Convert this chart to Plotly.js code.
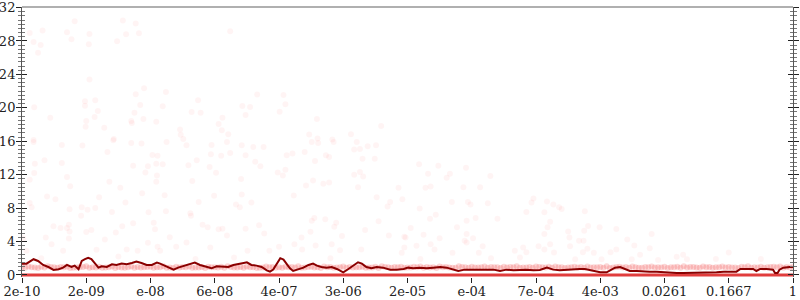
<!DOCTYPE html>
<html>
<head>
<meta charset="utf-8">
<script src="https://cdn.plot.ly/plotly-3.0.1.min.js"></script>
<style>html,body{margin:0;padding:0;background:#fff;}#chart{width:800px;height:300px;}</style>
</head>
<body>
<div id="chart"></div>
<script>
// x positions are quantile ranks (0..12), labelled with the matching values
const tickPos = [0,1,2,3,4,5,6,7,8,9,10,11,12];
const tickLabels = ["2e-10","2e-09","e-08","6e-08","4e-07","3e-06","2e-05","e-04","7e-04","4e-03","0.0261","0.1667","1"];
const yTicks = [0,4,8,12,16,20,24,28,32];

// individual observations (faint points)
const scatX = [0.82,1.57,1.77,0.32,0.12,0.70,1.05,1.62,1.82,3.24,0.18,0.77,0.29,1.04,1.48,0.25,1.05,1.90,1.77,2.24,3.66,2.74,0.98,1.14,0.19,0.98,1.84,2.19,3.43,3.55,1.18,1.75,2.64,2.78,3.48,4.01,0.44,1.13,1.89,3.12,1.00,1.70,1.71,2.09,3.06,0.99,1.28,2.46,3.11,2.47,3.21,0.18,1.43,2.51,
4.07,4.10,4.59,5.59,4.47,5.12,4.60,4.83,
0.18,0.62,0.94,1.42,1.70,1.86,2.25,2.56,2.95,3.19,3.42,3.60,3.76,1.33,2.03,2.11,2.94,3.10,3.24,3.48,0.20,0.35,0.62,1.73,1.96,2.09,2.19,2.59,2.72,2.92,3.63,3.71,0.19,0.70,1.92,2.10,3.02,3.98,0.12,0.75,1.36,2.09,2.65,3.41,1.53,0.39,0.52,1.20,1.87,2.22,2.99,3.42,3.57,1.61,2.75,0.12,0.15,0.74,0.93,0.92,1.02,1.14,1.40,1.97,2.24,2.62,2.63,3.33,3.39,0.49,0.60,0.70,0.74,0.73,1.00,1.08,1.46,1.56,1.73,2.05,2.07,2.30,2.81,2.89,3.06,3.12,3.19,3.48,3.69,3.77,0.37,0.73,1.29,1.96,2.11,2.56,2.93,0.02,0.07,0.46,0.64,1.16,1.63,1.80,2.15,2.40,3.51,3.85,4.00,
4.51,4.61,4.85,5.21,5.38,5.51,4.12,4.21,4.40,4.73,4.78,5.17,5.26,5.30,5.49,4.56,6.18,6.48,6.91,4.06,4.10,5.17,5.26,5.31,6.32,6.61,6.66,7.29,4.42,4.53,4.69,4.78,5.23,5.86,6.28,6.36,6.87,7.13,4.23,5.52,5.73,5.92,6.69,6.94,6.98,7.25,7.96,7.93,5.69,6.19,6.35,6.44,7.06,6.92,7.40,7.85,4.51,4.55,4.72,4.86,4.89,5.55,6.05,6.25,6.50,6.77,6.92,7.02,4.35,4.49,4.98,5.34,5.71,5.95,5.97,6.89,6.92,4.24,4.57,4.82,5.95,6.14,6.36,7.17,7.80,4.36,4.95,5.28,5.91,6.42,6.70,7.11,7.67,7.85,8.04,7.75,
8.17,8.27,8.36,8.40,8.76,8.13,8.22,8.18,8.13,8.50,8.52,8.81,8.75,8.99,9.25,8.67,8.74,8.53,8.22,8.13,8.28,8.73,8.80,8.90,9.42,9.53,9.16,9.25,9.62,9.77,9.80,9.49,10.19,10.29,10.35,11.00,9.02,8.61,
0.30,1.50,2.70,3.30,4.80,6.20,7.30,9.90,10.80,11.50];
const scatY = [30.37,30.45,30.08,29.24,28.96,29.04,28.84,28.80,28.92,29.16,27.88,28.20,27.52,27.60,27.96,26.59,23.38,22.34,21.62,21.90,21.60,20.90,20.78,20.90,20.06,20.26,20.34,20.18,20.22,20.10,19.61,19.41,19.49,19.41,19.13,19.53,18.81,18.89,18.65,18.81,18.41,18.41,18.17,18.33,18.05,17.73,17.61,17.41,17.33,16.77,16.85,16.16,16.28,16.28,
21.54,20.42,18.65,17.81,16.81,16.85,16.33,16.20,
15.92,15.56,15.48,16.12,15.80,15.72,15.92,15.52,15.56,15.92,15.52,15.32,15.32,14.72,14.36,14.28,14.44,14.28,14.60,14.32,13.32,13.72,13.40,13.08,13.00,13.32,13.24,13.12,13.72,12.92,13.56,13.00,12.19,11.71,12.27,11.91,12.23,12.27,11.39,10.63,11.15,11.15,11.23,11.47,10.43,9.39,9.07,9.31,9.79,9.55,9.47,9.63,8.66,8.66,8.74,8.62,8.10,7.86,8.10,7.10,7.82,8.02,7.54,7.50,7.62,7.38,7.10,8.42,8.10,5.82,5.62,5.62,5.21,6.02,5.13,5.38,5.09,5.82,6.18,6.26,5.46,4.53,6.02,5.70,5.46,5.54,4.73,5.54,5.94,4.97,4.49,4.37,4.25,3.85,3.37,3.89,3.29,4.41,2.89,3.69,2.89,3.01,3.05,2.89,2.89,3.37,2.89,2.89,3.37,
15.92,15.80,15.92,15.92,15.40,15.52,14.32,14.52,14.72,14.32,14.12,15.00,15.08,13.92,13.92,13.64,13.24,13.08,12.84,11.91,12.60,11.99,12.31,11.79,12.11,11.63,12.11,11.83,10.71,11.31,10.91,11.07,10.51,10.43,10.43,10.59,10.51,10.51,9.51,9.31,8.74,9.07,8.74,8.74,8.42,8.58,9.15,8.66,8.18,7.94,6.74,7.22,6.82,6.50,6.74,7.54,6.50,6.82,6.66,5.78,6.26,6.42,5.62,4.81,4.41,5.70,4.89,4.41,4.49,5.17,4.65,5.38,4.73,4.57,4.49,4.09,3.89,3.69,3.53,3.69,3.29,3.49,3.69,3.45,3.29,3.05,2.97,3.05,2.65,3.05,2.65,2.65,2.89,2.73,3.45,2.09,
8.78,8.42,8.10,7.90,7.62,7.50,6.38,5.70,4.89,5.21,4.49,5.86,5.29,5.70,5.50,4.09,4.09,3.45,3.69,3.05,2.69,2.73,3.13,2.65,4.25,3.53,2.73,3.05,2.41,3.21,4.89,1.89,2.17,2.41,1.89,2.69,1.89,1.89,
2.00,2.20,1.90,2.10,2.00,1.90,2.00,1.80,1.90,1.90];

// dense cluster of observations close to 1
const bandX = [0,0.1,0.2,0.3,0.4,0.5,0.6,0.7,0.8,0.9,1,1.1,1.2,1.3,1.4,1.5,1.6,1.7,1.8,1.9,2,2.1,2.2,2.3,2.4,2.5,2.6,2.7,2.8,2.9,3,3.1,3.2,3.3,3.4,3.5,3.6,3.7,3.8,3.9,4,4.1,4.2,4.3,4.4,4.5,4.6,4.7,4.8,4.9,5,5.1,5.2,5.3,5.4,5.5,5.6,5.7,5.8,5.9,6,6.1,6.2,6.3,6.4,6.5,6.6,6.7,6.8,6.9,7,7.1,7.2,7.3,7.4,7.5,7.6,7.7,7.8,7.9,8,8.1,8.2,8.3,8.4,8.5,8.6,8.7,8.8,8.9,9,9.1,9.2,9.3,9.4,9.5,9.6,9.7,9.8,9.9,10,10.1,10.2,10.3,10.4,10.5,10.6,10.7,10.8,10.9,11,11.1,11.2,11.3,11.4,11.5,11.6,11.7,11.8,11.9,12];
const bandY = [0.95,1.02,0.9,0.98,1.05,0.92,0.97,1.0,0.88,0.96,1.04,0.93,0.99,0.9,1.01,0.95,0.87,1.03,0.97,0.92,1.0,0.94,1.06,0.91,0.98,0.95,1.02,0.89,0.97,1.0,0.93,0.99,1.05,0.9,0.96,1.01,0.94,0.88,1.03,0.97,0.92,1.0,0.95,1.04,0.9,0.98,0.93,1.01,0.96,0.89,1.02,0.97,0.94,1.0,0.91,0.99,1.05,0.93,0.96,1.0,0.9,0.98,1.03,0.95,0.92,1.01,0.97,0.88,1.04,0.94,0.99,0.91,1.02,0.96,0.93,1.0,0.97,1.05,0.9,0.95,1.01,0.92,0.98,1.03,0.94,0.89,1.0,0.96,1.02,0.93,0.97,1.05,0.91,0.99,0.95,1.01,0.88,0.97,1.03,0.94,1.0,0.92,0.98,1.04,0.95,0.9,1.01,0.96,0.93,1.02,0.97,0.91,0.99,1.05,0.94,1.0,0.92,0.98,1.03,0.95,0.97];
const bandX2 = [0.05,0.15,0.25,0.35,0.45,0.55,0.65,0.75,0.85,0.95,1.05,1.15,1.25,1.35,1.45,1.55,1.65,1.75,1.85,1.95,2.05,2.15,2.25,2.35,2.45,2.55,2.65,2.75,2.85,2.95,3.05,3.15,3.25,3.35,3.45,3.55,3.65,3.75,3.85,3.95,4.05,4.15,4.25,4.35,4.45,4.55,4.65,4.75,4.85,4.95,5.05,5.15,5.25,5.35,5.45,5.55,5.65,5.75,5.85,5.95,6.05,6.15,6.25,6.35,6.45,6.55,6.65,6.75,6.85,6.95,7.05,7.15,7.25,7.35,7.45,7.55,7.65,7.75,7.85,7.95,8.05,8.15,8.25,8.35,8.45,8.55,8.65,8.75,8.85,8.95,9.05,9.15,9.25,9.35,9.45,9.55,9.65,9.75,9.85,9.95,10.05,10.15,10.25,10.35,10.45,10.55,10.65,10.75,10.85,10.95,11.05,11.15,11.25,11.35,11.45,11.55,11.65,11.75,11.85,11.95];
const bandY2 = [0.88,0.93,0.85,0.9,0.96,0.87,0.92,0.84,0.9,0.95,0.86,0.91,0.88,0.94,0.85,0.9,0.93,0.87,0.89,0.95,0.86,0.92,0.88,0.84,0.91,0.94,0.87,0.9,0.85,0.93,0.89,0.86,0.95,0.9,0.87,0.92,0.85,0.91,0.94,0.88,0.86,0.93,0.9,0.87,0.95,0.89,0.85,0.92,0.88,0.94,0.86,0.9,0.93,0.87,0.91,0.85,0.95,0.88,0.92,0.86,0.9,0.94,0.87,0.89,0.85,0.93,0.91,0.88,0.95,0.86,0.9,0.92,0.87,0.94,0.85,0.89,0.93,0.88,0.91,0.86,0.95,0.9,0.87,0.92,0.85,0.94,0.89,0.86,0.91,0.93,0.88,0.85,0.95,0.9,0.87,0.92,0.86,0.94,0.89,0.91,0.85,0.93,0.88,0.9,0.95,0.87,0.92,0.86,0.94,0.89,0.91,0.85,0.93,0.88,0.9,0.87,0.95,0.92,0.86,0.9];

// observations equal to zero
const zeroX = [0,1,2,3,4,5,6,7,8,9,10,11,12];
const zeroY = [0,0,0,0,0,0,0,0,0,0,0,0,0];

// running average
const avgX = [0.00,0.07,0.18,0.25,0.33,0.41,0.49,0.57,0.64,0.70,0.77,0.82,0.88,0.93,0.98,1.03,1.08,1.14,1.19,1.24,1.32,1.40,1.47,1.55,1.63,1.71,1.78,1.86,1.94,2.02,2.10,2.15,2.23,2.30,2.36,2.43,2.54,2.61,2.69,2.77,2.87,2.95,3.03,3.13,3.21,3.29,3.37,3.45,3.50,3.57,3.65,3.73,3.81,3.86,3.91,3.96,4.02,4.07,4.12,4.17,4.22,4.30,4.38,4.46,4.53,4.59,4.66,4.74,4.82,4.90,5.00,5.08,5.16,5.23,5.29,5.36,5.44,5.52,5.62,5.73,5.83,5.94,6.01,6.09,6.19,6.30,6.40,6.51,6.61,6.71,6.79,6.89,7.00,7.13,7.23,7.34,7.44,7.54,7.65,7.75,7.85,7.96,8.06,8.17,8.27,8.37,8.48,8.58,8.68,8.76,8.84,8.92,9.00,9.10,9.15,9.23,9.31,9.39,9.46,9.57,9.67,9.77,9.88,9.98,10.09,10.19,10.29,10.40,10.50,10.60,10.71,10.81,10.92,11.02,11.12,11.18,11.28,11.38,11.43,11.49,11.59,11.69,11.72,11.76,11.79,11.85,11.95,12.00];
const avgY = [1.36,1.36,1.89,1.68,1.20,0.96,0.60,0.68,0.88,1.20,0.96,1.12,0.68,1.68,1.89,2.05,1.89,1.36,0.88,1.04,0.96,1.28,1.20,1.36,1.28,1.44,1.60,1.44,1.20,1.20,1.48,1.36,1.08,0.80,0.64,0.88,1.16,1.36,1.48,1.20,0.96,0.80,1.04,1.04,0.96,1.20,1.28,1.44,1.52,1.20,1.12,0.96,0.56,0.40,0.64,1.28,2.01,1.84,1.28,0.80,0.48,0.64,0.88,1.20,1.36,1.12,0.96,0.88,0.96,0.72,0.32,0.72,1.20,1.52,1.36,0.96,0.80,0.96,0.88,0.64,0.64,0.72,0.88,0.80,0.88,0.80,0.88,0.96,0.88,0.64,0.48,0.64,0.64,0.56,0.64,0.64,0.48,0.64,0.56,0.64,0.64,0.56,0.60,0.88,0.64,0.56,0.64,0.64,0.72,0.72,0.56,0.48,0.32,0.32,0.56,0.88,0.96,0.72,0.48,0.48,0.40,0.40,0.40,0.32,0.32,0.24,0.24,0.24,0.32,0.32,0.32,0.32,0.40,0.40,0.40,0.72,0.72,0.72,0.48,0.72,0.72,0.64,0.24,0.24,0.64,0.88,0.96,0.96];

const FONT = {family: "DejaVu Serif", size: 13, color: "#222"};
const yr = [-0.24, 32.06];

const traces = [
  {x: scatX, y: scatY, type: "scatter", mode: "markers", hoverinfo: "none",
   marker: {size: 6, color: "rgba(255,0,0,0.045)", line: {width: 0}}},
  {x: bandX.concat(bandX2), y: bandY.concat(bandY2), type: "scatter", mode: "markers", hoverinfo: "none",
   marker: {size: 6, color: "rgba(240,30,30,0.18)", line: {width: 0}}},
  {x: zeroX, y: zeroY, type: "scatter", mode: "lines", hoverinfo: "none",
   line: {color: "rgba(222,40,40,0.9)", width: 3}},
  {x: avgX, y: avgY, type: "scatter", mode: "lines", hoverinfo: "none",
   line: {color: "#8a0000", width: 2}},
  {x: [], y: [], yaxis: "y2", type: "scatter"},
  {x: [], y: [], yaxis: "y3", type: "scatter"},
  {x: [], y: [], yaxis: "y4", type: "scatter"}
];

function yax(extra) {
  return Object.assign({
    range: yr, tickvals: yTicks, ticktext: yTicks.map(String),
    ticklen: 5, tickwidth: 1, tickcolor: "#222",
    showgrid: false, zeroline: false, fixedrange: true, tickfont: FONT
  }, extra);
}

const layout = {
  width: 800, height: 300,
  margin: {l: 22, r: 7, t: 7, b: 23, pad: 0},
  paper_bgcolor: "#fff", plot_bgcolor: "#fff",
  showlegend: false,
  font: FONT,
  xaxis: {range: [0, 12], tickvals: tickPos, ticktext: tickLabels, ticks: "outside",
          ticklen: 5, tickwidth: 1, tickcolor: "#222", showline: false, showgrid: false,
          zeroline: false, tickfont: FONT, fixedrange: true, ticklabelstandoff: -3},
  yaxis: yax({side: "left", ticks: "outside", showline: true, linecolor: "#555", linewidth: 1,
              ticklabelstandoff: -2,
              minor: {dtick: 0.5, ticks: "outside", ticklen: 3, tickwidth: 1, tickcolor: "#777"}}),
  yaxis2: yax({overlaying: "y", side: "left", ticks: "inside", showticklabels: false, showline: false,
              minor: {dtick: 0.5, ticks: "inside", ticklen: 3, tickwidth: 1, tickcolor: "#777"}}),
  yaxis3: yax({overlaying: "y", side: "right", ticks: "outside", showticklabels: false, showline: true,
              linecolor: "#555", linewidth: 1,
              minor: {dtick: 0.5, ticks: "outside", ticklen: 3, tickwidth: 1, tickcolor: "#777"}}),
  yaxis4: yax({overlaying: "y", side: "right", ticks: "inside", showticklabels: false, showline: false,
              minor: {dtick: 0.5, ticks: "inside", ticklen: 3, tickwidth: 1, tickcolor: "#777"}}),
  shapes: [{type: "line", xref: "paper", yref: "paper", x0: 0, x1: 1, y0: 1, y1: 1,
            line: {color: "#b0b0b0", width: 2}}]
};

Plotly.newPlot("chart", traces, layout, {staticPlot: true, displayModeBar: false});
</script>
</body>
</html>
